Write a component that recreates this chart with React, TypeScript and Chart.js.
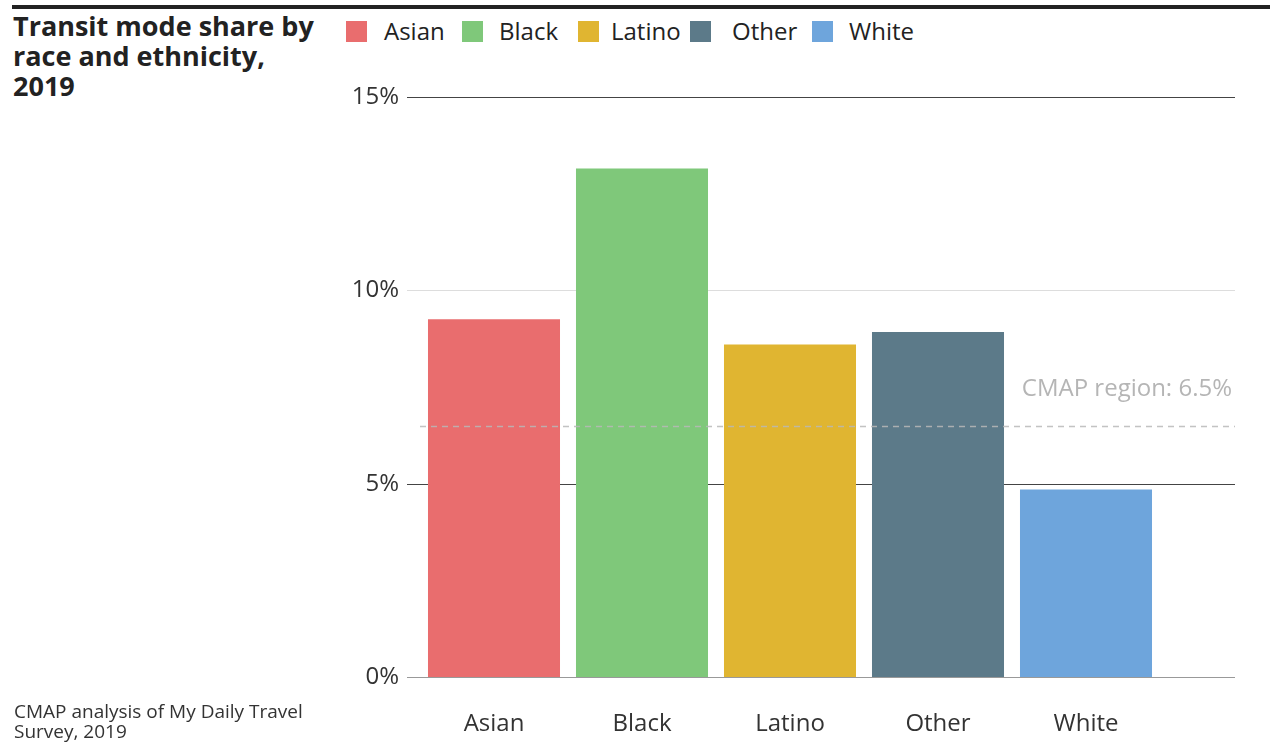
import React, { useEffect, useRef } from "react";
import { Chart, registerables } from "chart.js";

Chart.register(...registerables);

const categories = ["Asian", "Black", "Latino", "Other", "White"];
const shareValues = [9.25, 13.15, 8.6, 8.92, 4.85];
const barColors = ["#e96d6e", "#7fc87a", "#e0b531", "#5c7a89", "#6ea5dc"];
const yTicks = [0, 5, 10, 15];
const gridColors = ["#999999", "#444444", "#dddddd", "#444444"];
const regionAverage = 6.5;
const regionLabel = "CMAP region: 6.5%";
const titleLines = ["Transit mode share by", "race and ethnicity,", "2019"];
const sourceLines = ["CMAP analysis of My Daily Travel", "Survey, 2019"];

// layout of legend items (x of swatch, x of text)
const legendSwatchX = [346, 462, 578, 690, 812];
const legendTextX = [384, 499, 611, 732, 849];

const FONT = "'Open Sans', 'Noto Sans', sans-serif";

const gridPlugin = {
  id: "customGrid",
  beforeDatasetsDraw(chart: any) {
    const ctx = chart.ctx;
    const y = chart.scales.y;
    ctx.save();
    yTicks.forEach((v, i) => {
      const py = Math.round(y.getPixelForValue(v)) + 0.5;
      ctx.strokeStyle = gridColors[i];
      ctx.lineWidth = 1;
      ctx.beginPath();
      ctx.moveTo(407, py);
      ctx.lineTo(1235, py);
      ctx.stroke();
    });
    ctx.restore();
  },
  afterDatasetsDraw(chart: any) {
    const ctx = chart.ctx;
    const y = chart.scales.y;
    const py = Math.round(y.getPixelForValue(regionAverage)) + 0.5;
    ctx.save();
    ctx.strokeStyle = "rgba(185,185,185,0.85)";
    ctx.lineWidth = 1.5;
    ctx.setLineDash([6, 5]);
    ctx.beginPath();
    ctx.moveTo(420, py);
    ctx.lineTo(1235, py);
    ctx.stroke();
    ctx.setLineDash([]);
    ctx.fillStyle = "#b5b5b5";
    ctx.font = `24px ${FONT}`;
    ctx.textAlign = "right";
    ctx.textBaseline = "alphabetic";
    ctx.fillText(regionLabel, 1232, py - 31);
    ctx.restore();
  },
};

export default function App() {
  const ref = useRef<HTMLCanvasElement>(null);

  useEffect(() => {
    if (!ref.current) return;
    const chart = new Chart(ref.current, {
      type: "bar",
      data: {
        labels: categories,
        datasets: [
          {
            data: shareValues,
            backgroundColor: barColors,
            borderWidth: 0,
            categoryPercentage: 1,
            barPercentage: 0.892,
          },
        ],
      },
      options: {
        animation: false,
        responsive: false,
        maintainAspectRatio: false,
        layout: { padding: { left: 340, right: 110, top: 97, bottom: 7 } },
        plugins: { legend: { display: false }, tooltip: { enabled: false } },
        scales: {
          x: {
            grid: { display: false, drawTicks: false },
            border: { display: false },
            ticks: {
              color: "#333",
              font: { family: FONT, size: 24 },
              padding: 33,
            },
            afterFit(scale: any) {
              scale.height = 60;
            },
          },
          y: {
            min: 0,
            max: 15,
            grid: { display: false, drawTicks: false },
            border: { display: false },
            ticks: {
              stepSize: 5,
              color: "#333",
              font: { family: FONT, size: 24 },
              padding: 21,
              callback: (v: any) => v + "%",
            },
            afterFit(scale: any) {
              scale.width = 80;
            },
          },
        },
      },
      plugins: [gridPlugin],
    });
    return () => chart.destroy();
  }, []);

  return (
    <div
      style={{
        position: "fixed",
        top: 0,
        left: 0,
        width: 1270,
        height: 744,
        background: "#fff",
        fontFamily: FONT,
        color: "#222",
      }}
    >
      <div
        style={{
          position: "absolute",
          left: 12,
          top: 5,
          width: 1258,
          height: 4,
          background: "#222",
        }}
      />
      <div
        style={{
          position: "absolute",
          left: 13,
          top: 11,
          fontSize: 27,
          fontWeight: 700,
          lineHeight: "30px",
          color: "#222",
        }}
      >
        {titleLines.map((t) => (
          <div key={t}>{t}</div>
        ))}
      </div>
      {categories.map((c, i) => (
        <React.Fragment key={c}>
          <span
            style={{
              position: "absolute",
              left: legendSwatchX[i],
              top: 21,
              width: 21,
              height: 21,
              background: barColors[i],
            }}
          />
          <span
            style={{
              position: "absolute",
              left: legendTextX[i],
              top: 13,
              fontSize: 24,
              lineHeight: "36px",
              color: "#222",
              whiteSpace: "nowrap",
            }}
          >
            {c}
          </span>
        </React.Fragment>
      ))}
      <canvas
        ref={ref}
        width={1270}
        height={744}
        style={{ position: "absolute", left: 0, top: 0, width: 1270, height: 744 }}
      />
      <div
        style={{
          position: "absolute",
          left: 14,
          top: 701,
          fontSize: 19,
          lineHeight: "20px",
          color: "#333",
        }}
      >
        {sourceLines.map((t) => (
          <div key={t}>{t}</div>
        ))}
      </div>
    </div>
  );
}
